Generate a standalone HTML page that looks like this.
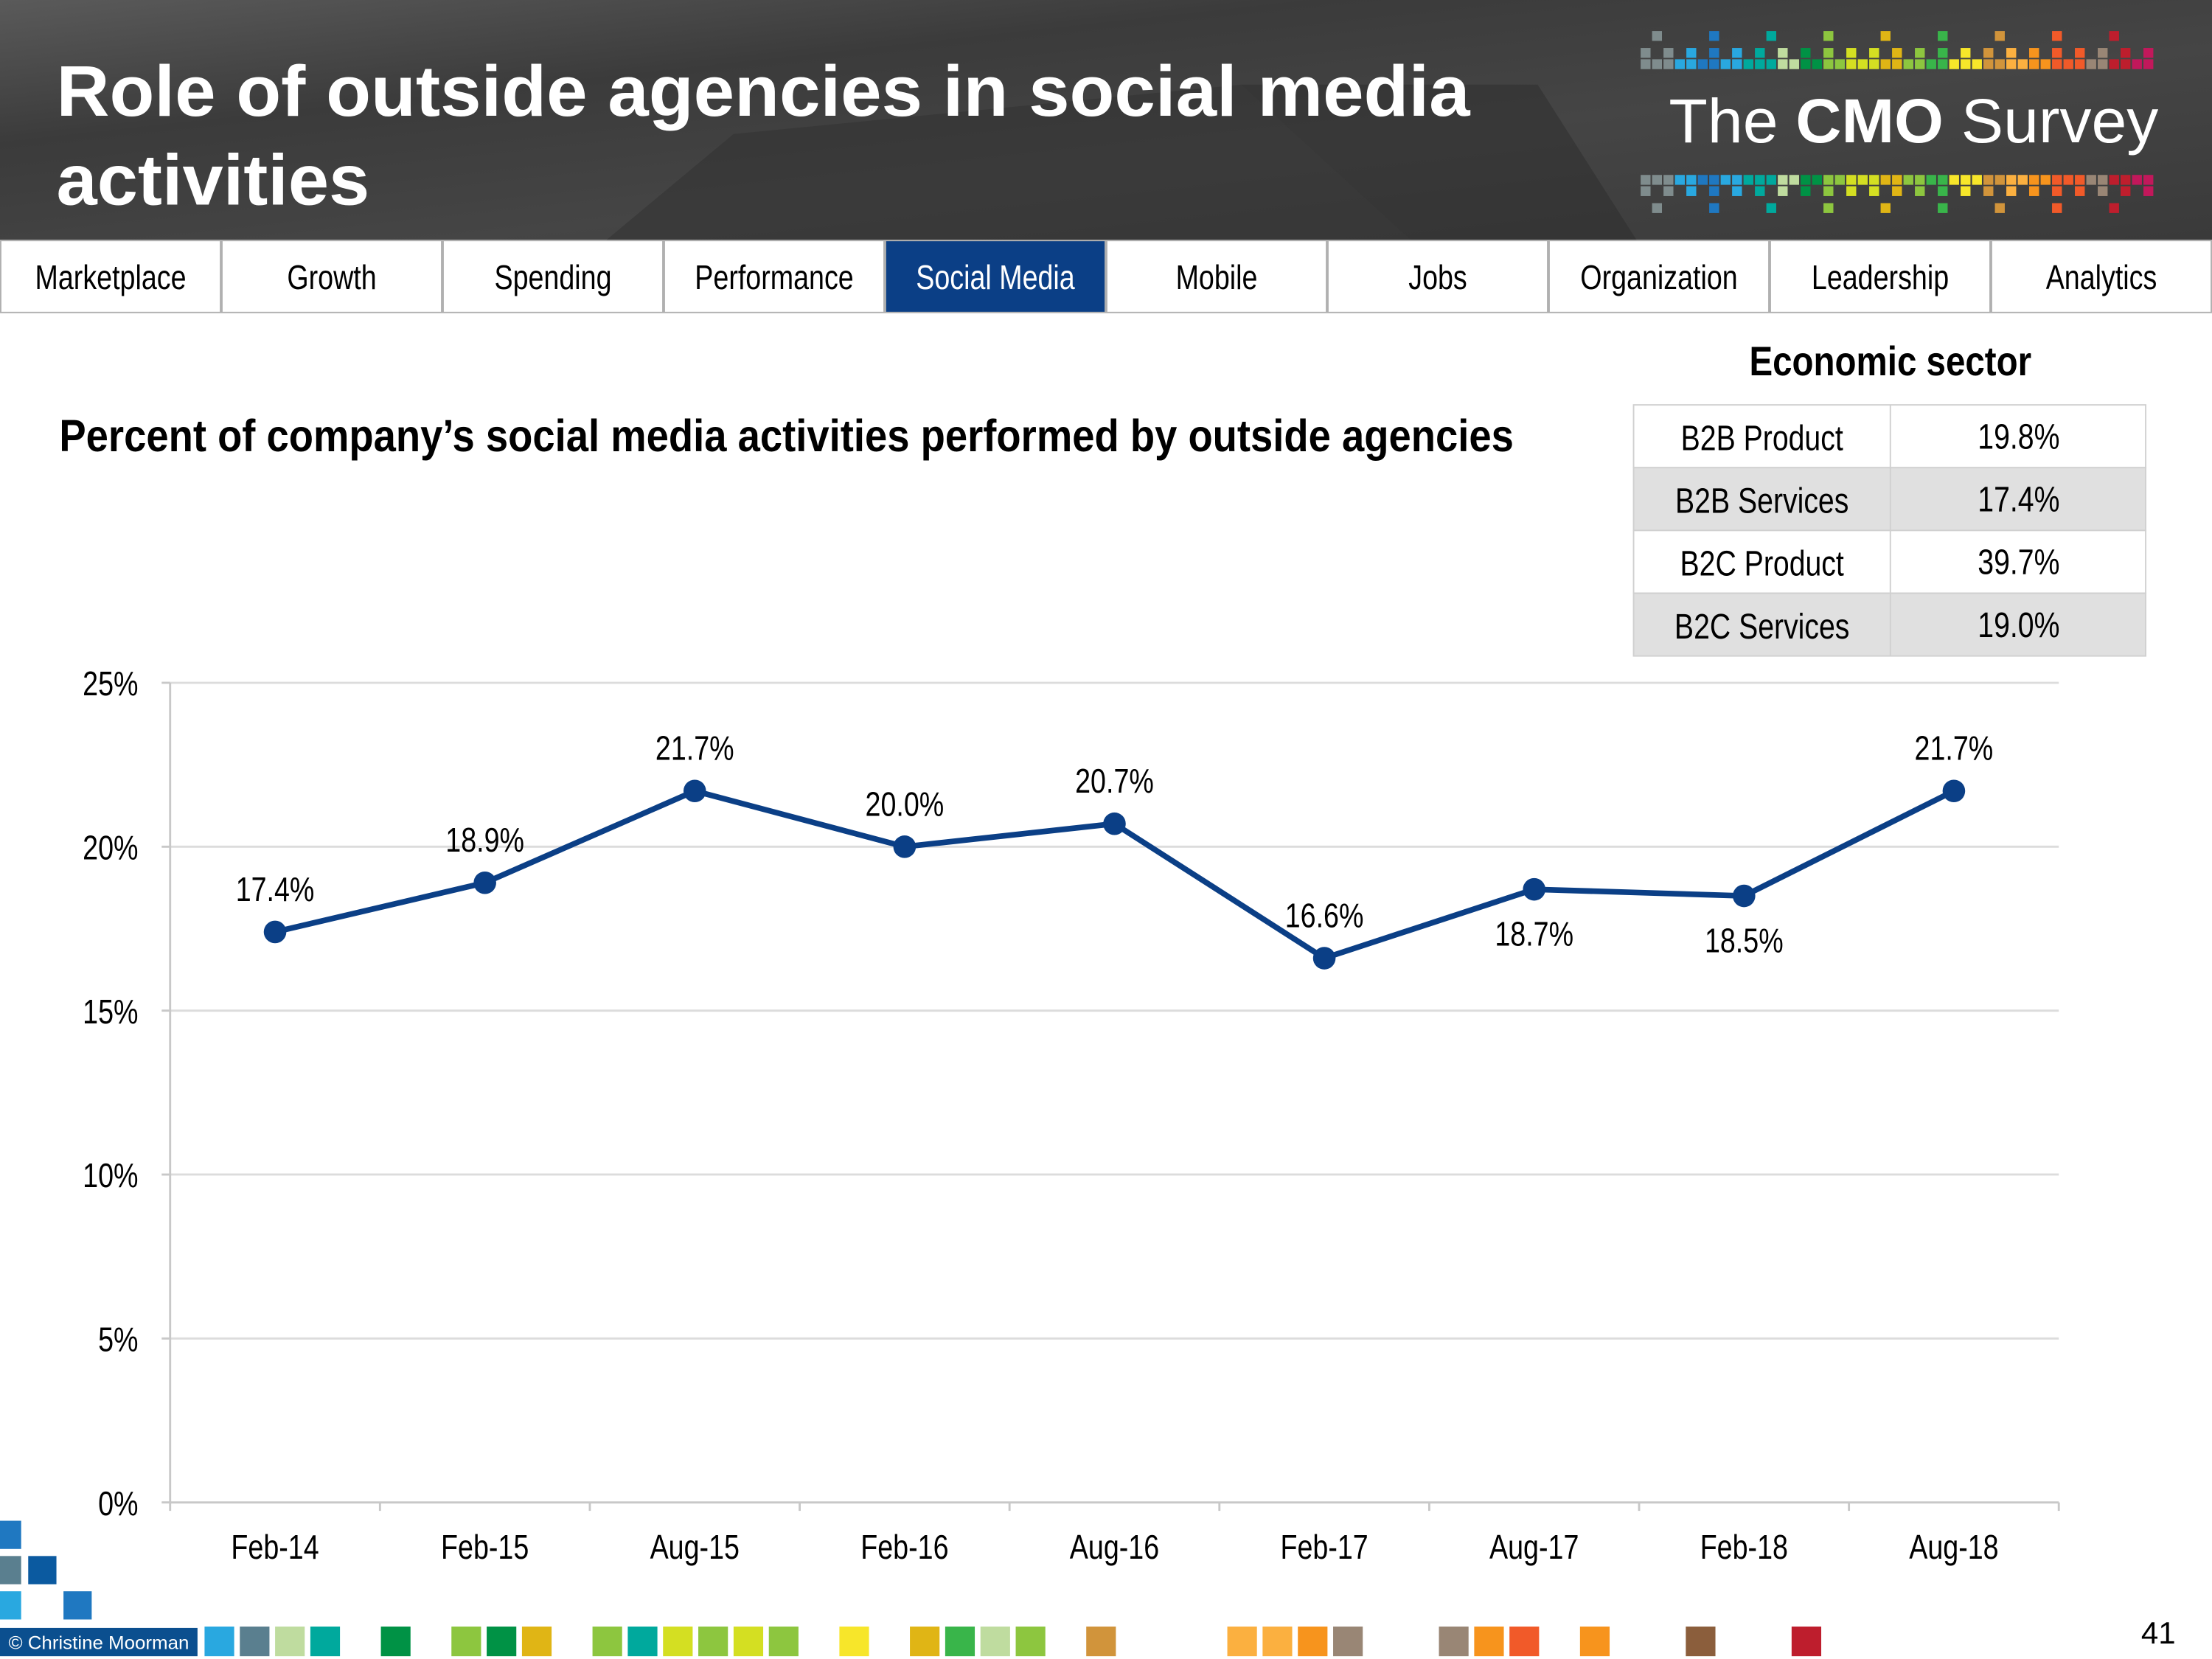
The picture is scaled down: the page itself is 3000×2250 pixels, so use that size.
<!DOCTYPE html>
<html><head><meta charset="utf-8">
<style>
html,body{margin:0;padding:0;background:#fff;}
svg{display:block;}
text{font-family:"Liberation Sans",sans-serif;}
</style></head>
<body>
<svg id="root" width="3000" height="2250" viewBox="0 0 1568 1176" xmlns="http://www.w3.org/2000/svg">
<defs>
<linearGradient id="hdr" x1="0" y1="0" x2="1" y2="1">
<stop offset="0" stop-color="#5a5a5a"/><stop offset="0.3" stop-color="#3b3b3b"/><stop offset="0.6" stop-color="#454545"/><stop offset="1" stop-color="#3a3a3a"/>
</linearGradient>
</defs>
<g>
<rect x="0" y="0" width="1568" height="170" fill="url(#hdr)"/>
<path d="M430 170 L520 95 L880 60 L1000 170 Z" fill="#303030" opacity="0.5"/>
<path d="M880 60 L1090 60 L1160 170 L1000 170 Z" fill="#2c2c2c" opacity="0.5"/>
<text x="40" y="82" font-size="51" font-weight="bold" fill="#fff" textLength="1002" lengthAdjust="spacingAndGlyphs">Role of outside agencies in social media</text>
<text x="40" y="145" font-size="51" font-weight="bold" fill="#fff" textLength="222" lengthAdjust="spacingAndGlyphs">activities</text>
<g id="logo-pixels"></g>
<text x="1183" y="101" font-size="44" fill="#fff" textLength="347" lengthAdjust="spacingAndGlyphs">The <tspan font-weight="bold">CMO</tspan> Survey</text>
</g>
<g id="nav"></g>

<text x="1240" y="266" font-size="29" font-weight="bold" fill="#000" textLength="200" lengthAdjust="spacingAndGlyphs">Economic sector</text>
<g id="tbl"></g>

<text x="42" y="320" font-size="32" font-weight="bold" fill="#000" textLength="1031" lengthAdjust="spacingAndGlyphs">Percent of company’s social media activities performed by outside agencies</text>

<g id="chart"></g>

<g id="foot">
<rect x="0" y="1078" width="15" height="20" fill="#1f78c1"/>
<rect x="0" y="1103" width="15" height="20" fill="#5a7f8f"/>
<rect x="20" y="1103" width="20" height="20" fill="#0b5aa0"/>
<rect x="0" y="1128" width="15" height="20" fill="#29a8e0"/>
<rect x="45" y="1128" width="20" height="20" fill="#1f78c1"/>
<rect x="0" y="1154" width="140" height="20" fill="#0b4f8f"/>
<text x="6" y="1169" font-size="13" fill="#fff" textLength="128" lengthAdjust="spacingAndGlyphs">© Christine Moorman</text>
<text x="1530" y="1165" font-size="22" text-anchor="middle" fill="#000">41</text>
</g>
</svg>
<script>
const NS="http://www.w3.org/2000/svg";
function mk(tag,attrs,parent,txt){const e=document.createElementNS(NS,tag);for(const k in attrs)e.setAttribute(k,attrs[k]);if(txt!==undefined)e.textContent=txt;parent.appendChild(e);return e;}
function ctext(parent,x,y,size,anchor,txt,fill){return mk('text',{x:0,y:0,transform:'translate('+x+','+y+') scale(0.82,1)','font-size':size,'text-anchor':anchor,fill:fill||'#000'},parent,txt);}

// Chart data
const categories=["Feb-14","Feb-15","Aug-15","Feb-16","Aug-16","Feb-17","Aug-17","Feb-18","Aug-18"];
const values=[17.4,18.9,21.7,20.0,20.7,16.6,18.7,18.5,21.7];
const valueLabels=["17.4%","18.9%","21.7%","20.0%","20.7%","16.6%","18.7%","18.5%","21.7%"];
const labelBelow=[false,false,false,false,false,false,true,true,false];
const yTicks=[0,5,10,15,20,25];
const yTickLabels=["0%","5%","10%","15%","20%","25%"];
// Table data
const sectors=["B2B Product","B2B Services","B2C Product","B2C Services"];
const sectorValues=["19.8%","17.4%","39.7%","19.0%"];
// Nav
const navItems=["Marketplace","Growth","Spending","Performance","Social Media","Mobile","Jobs","Organization","Leadership","Analytics"];
const activeNav="Social Media";

const nav=document.getElementById('nav');
const nw=1568/navItems.length;
navItems.forEach((n,i)=>{
  const act=n===activeNav;
  const r=mk('rect',{x:i*nw+0.5,y:170.5,width:nw-1,height:51,fill:act?'#0b3f86':'#fff',stroke:'#b0b0b0','stroke-width':1},nav);
  
  
  const t=ctext(nav,i*nw+nw/2,205,24,'middle',n,act?'#fff':'#000');
  
  
});

const tbl=document.getElementById('tbl');
const tx0=1158,tx1=1340,tx2=1521,ty0=287,rh=44.5;
sectors.forEach((s,i)=>{
  const y=ty0+i*rh;
  const r=mk('rect',{x:tx0,y:y,width:tx2-tx0,height:rh,fill:i%2?'#e0e0e0':'#fff',stroke:'#d0d0d0','stroke-width':1},tbl);
  
  
  mk('line',{x1:tx1,y1:y,x2:tx1,y2:y+rh,stroke:'#d0d0d0'},tbl);
  const a=ctext(tbl,(tx0+tx1)/2,y+32,25,'middle',s);
  
  
  const b=ctext(tbl,1431,y+31,25,'middle',sectorValues[i]);
  
  
});

const ch=document.getElementById('chart');
const X0=120.6,X1=1459.4,Y0=1065,Y25=484;
const cw=(X1-X0)/categories.length;
const xS=i=>X0+cw*(i+0.5);
const yS=v=>Y0-(v/25)*(Y0-Y25);
yTicks.forEach((t,i)=>{
  const y=yS(t);
  const g=mk('line',{x1:X0,y1:y,x2:X1,y2:y,stroke:t===0?'#c8c8c8':'#dcdcdc','stroke-width':1.5},ch);
  
  
  mk('line',{x1:X0-6,y1:y,x2:X0,y2:y,stroke:'#c8c8c8','stroke-width':1.5},ch);
  const l=ctext(ch,98,y+9,24,'end',yTickLabels[i]);
  
  
});
mk('line',{x1:X0,y1:Y25,x2:X0,y2:Y0,stroke:'#c8c8c8','stroke-width':1.5},ch);
for(let i=0;i<=categories.length;i++){mk('line',{x1:X0+cw*i,y1:Y0,x2:X0+cw*i,y2:Y0+6,stroke:'#c8c8c8','stroke-width':1.5},ch);}
categories.forEach((c,i)=>{
  const t=ctext(ch,xS(i),1105,24,'middle',c);
  
  
});
const pl=mk('polyline',{points:values.map((v,i)=>xS(i)+','+yS(v)).join(' '),fill:'none',stroke:'#0b3f86','stroke-width':4,'stroke-linejoin':'round'},ch);


values.forEach((v,i)=>{
  const p=mk('circle',{cx:xS(i),cy:yS(v),r:8,fill:'#0b3f86'},ch);
  
  
  const ly=labelBelow[i]?yS(v)+40:yS(v)-22;
  const l=ctext(ch,xS(i),ly,24,'middle',valueLabels[i]);
  
  
});

const foot=document.getElementById('foot');
const sqX=[145,170,195,220,270,320,345,370,420,445,470,495,520,545,595,645,670,695,720,770,870,895,920,945,1020,1045,1070,1120,1195,1270];
const sqC=['#29a8e0','#5a7f8f','#bfdc9f','#00a99d','#009245','#8dc63f','#009245','#e0b515','#8dc63f','#00a99d','#d4df22','#8dc63f','#d4df22','#8dc63f','#f7e62a','#e0b515','#39b54a','#bfdc9f','#8dc63f','#d1943b','#fbb040','#fbb040','#f7941d','#998675','#998675','#f7941d','#f15a29','#f7941d','#8b5e3c','#be1e2d'];
sqX.forEach((x,i)=>{mk('rect',{x:x,y:1153,width:21,height:21,fill:sqC[i]},foot);});

const lp=document.getElementById('logo-pixels');
const pal=['#7f8c8d','#29a8e0','#1f78c1','#29a8e0','#00a99d','#bfdc9f','#009245','#8dc63f','#d4df22','#e0b515','#8dc63f','#39b54a','#f7e62a','#d1943b','#fbb040','#f7941d','#f15a29','#998675','#be1e2d','#c2185b'];
for(let k=0;k<45;k++){
  const x=1163+k*8.1;const c=pal[Math.floor(k/45*pal.length)];
  [42,124].forEach(y=>mk('rect',{x:x,y:y,width:7,height:7,fill:c},lp));
  if(k%2===0)mk('rect',{x:x,y:34,width:7,height:7,fill:c},lp);
  if(k%2===0)mk('rect',{x:x,y:132,width:7,height:7,fill:c},lp);
  if(k%5===1){mk('rect',{x:x,y:22,width:7,height:7,fill:c},lp);mk('rect',{x:x,y:144,width:7,height:7,fill:c},lp);}
}
</script>
</body></html>
